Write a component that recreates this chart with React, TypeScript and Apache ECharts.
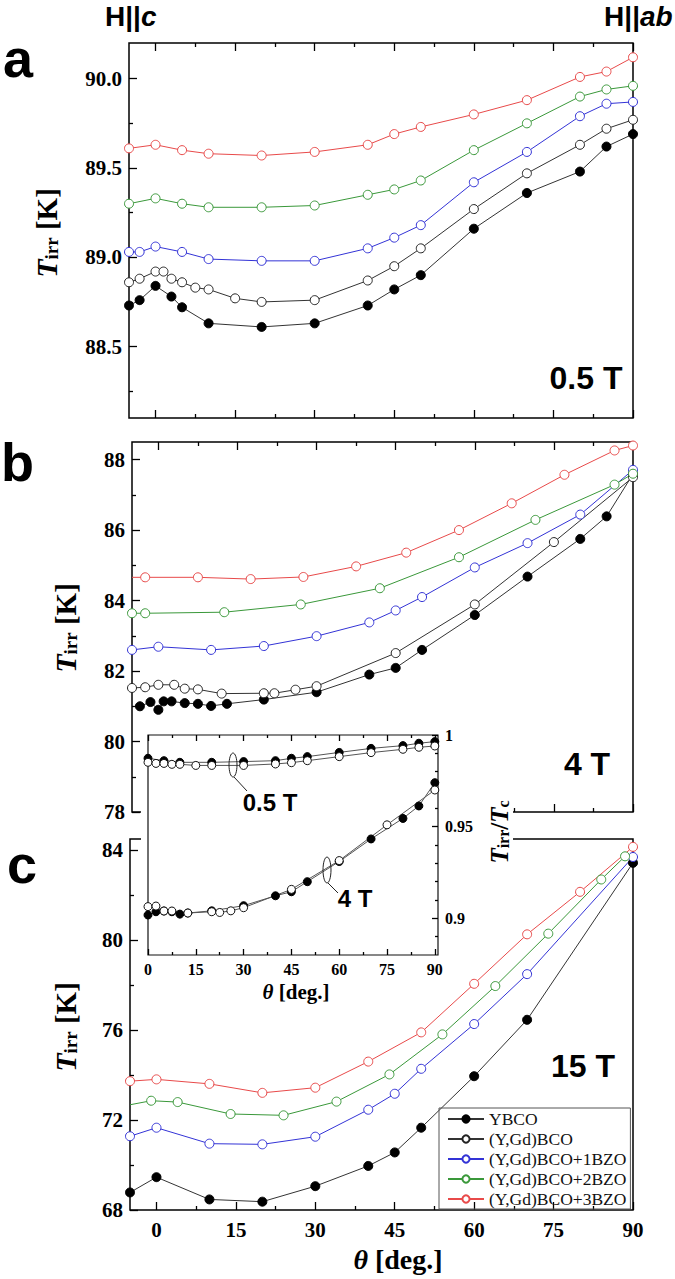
import React, { useEffect, useRef } from 'react';
import * as echarts from 'echarts';

const SERIES_NAMES = ['YBCO', '(Y,Gd)BCO', '(Y,Gd)BCO+1BZO', '(Y,Gd)BCO+2BZO', '(Y,Gd)BCO+3BZO'];

// ---------- Panel a : 0.5 T ----------
const aYBCO_theta = [-5, -3, 0, 3, 5, 10, 20, 30, 40, 45, 50, 60, 70, 80, 85, 90];
const aYBCO_T = [88.73, 88.76, 88.84, 88.78, 88.72, 88.63, 88.61, 88.63, 88.73, 88.82, 88.9, 89.16, 89.36, 89.48, 89.62, 89.69];
const aYGd_theta = [-5, -3, 0, 1.5, 3, 5, 7.5, 10, 15, 20, 30, 40, 45, 50, 60, 70, 80, 85, 90];
const aYGd_T = [88.86, 88.88, 88.92, 88.92, 88.88, 88.86, 88.83, 88.82, 88.77, 88.75, 88.76, 88.87, 88.95, 89.05, 89.27, 89.47, 89.63, 89.72, 89.77];
const a1BZO_theta = [-5, -3, 0, 5, 10, 20, 30, 40, 45, 50, 60, 70, 80, 85, 90];
const a1BZO_T = [89.03, 89.03, 89.06, 89.03, 88.99, 88.98, 88.98, 89.05, 89.11, 89.18, 89.42, 89.59, 89.79, 89.86, 89.87];
const a2BZO_theta = [-5, 0, 5, 10, 20, 30, 40, 45, 50, 60, 70, 80, 85, 90];
const a2BZO_T = [89.3, 89.33, 89.3, 89.28, 89.28, 89.29, 89.35, 89.38, 89.43, 89.6, 89.75, 89.9, 89.94, 89.96];
const a3BZO_theta = [-5, 0, 5, 10, 20, 30, 40, 45, 50, 60, 70, 80, 85, 90];
const a3BZO_T = [89.61, 89.63, 89.6, 89.58, 89.57, 89.59, 89.63, 89.69, 89.73, 89.8, 89.88, 90.01, 90.04, 90.12];

// ---------- Panel b : 4 T ----------
const bYBCO_theta = [-3.5, -1.5, 0, 1, 2.5, 5, 7.5, 10, 13, 20, 30, 40, 45, 50, 60, 70, 80, 85, 90];
const bYBCO_T = [81.0, 81.12, 80.9, 81.14, 81.14, 81.09, 81.07, 81.01, 81.07, 81.19, 81.4, 81.9, 82.09, 82.6, 83.59, 84.68, 85.75, 86.39, 87.59];
const bYGd_theta = [-5, -2.5, 0, 3, 5, 7.5, 12, 20, 22, 26, 30, 45, 60, 75, 90];
const bYGd_T = [81.52, 81.54, 81.61, 81.61, 81.5, 81.48, 81.36, 81.37, 81.37, 81.47, 81.57, 82.51, 83.89, 85.66, 87.5];
const b1BZO_theta = [-5, 0, 10, 20, 30, 40, 45, 50, 60, 70, 80, 90];
const b1BZO_T = [82.6, 82.69, 82.6, 82.71, 82.99, 83.38, 83.72, 84.1, 84.94, 85.63, 86.44, 87.71];
const b2BZO_theta = [-5, -2.5, 12.5, 27, 42, 57, 71.5, 86.5, 90];
const b2BZO_T = [83.64, 83.64, 83.67, 83.89, 84.35, 85.23, 86.29, 87.29, 87.6];
const b3BZO_theta = [-5, -2.5, 7.5, 17.5, 27.5, 37.5, 47, 57, 67, 77, 86.5, 90];
const b3BZO_T = [84.66, 84.66, 84.66, 84.61, 84.67, 84.97, 85.36, 86.0, 86.76, 87.57, 88.26, 88.4];

// ---------- Panel c : 15 T ----------
const cYBCO_theta = [-5, 0, 10, 20, 30, 40, 45, 50, 60, 70, 90];
const cYBCO_T = [68.78, 69.46, 68.47, 68.37, 69.06, 69.96, 70.56, 71.66, 73.95, 76.46, 83.44];
const c1BZO_theta = [-5, 0, 10, 20, 30, 40, 45, 50, 60, 70, 90];
const c1BZO_T = [71.28, 71.66, 70.95, 70.92, 71.26, 72.46, 73.17, 74.28, 76.27, 78.49, 83.7];
const c2BZO_theta = [-5, -1, 4, 14, 24, 34, 44, 54, 64, 74, 84, 88.5];
const c2BZO_T = [72.68, 72.86, 72.8, 72.27, 72.21, 72.82, 74.03, 75.81, 77.96, 80.29, 82.7, 83.73];
const c3BZO_theta = [-5, 0, 10, 20, 30, 40, 50, 60, 70, 80, 90];
const c3BZO_T = [73.73, 73.81, 73.61, 73.21, 73.44, 74.6, 75.9, 78.06, 80.26, 82.15, 84.15];

// ---------- Inset : Tirr/Tc ----------
const i05YBCO_theta = [0, 5, 10, 20, 30, 40, 45, 50, 60, 70, 80, 85, 90];
const i05YBCO = [0.9873, 0.986, 0.9851, 0.9851, 0.9855, 0.986, 0.9873, 0.9882, 0.9905, 0.9927, 0.9942, 0.9955, 0.9964];
const i05YGd_theta = [0, 2.5, 5, 7.5, 10, 15, 20, 30, 40, 45, 50, 60, 70, 80, 85, 90];
const i05YGd = [0.9851, 0.9845, 0.9845, 0.984, 0.984, 0.9834, 0.9834, 0.9834, 0.9842, 0.9849, 0.986, 0.9882, 0.9904, 0.9922, 0.9933, 0.994];
const i4YBCO_theta = [0, 2.5, 5, 7.5, 10, 12.5, 20, 30, 40, 45, 50, 60, 70, 80, 85, 90];
const i4YBCO = [0.9018, 0.9036, 0.904, 0.9036, 0.9023, 0.9029, 0.9041, 0.9069, 0.9123, 0.9145, 0.92, 0.931, 0.9433, 0.9545, 0.9613, 0.974];
const i4YGd_theta = [0, 2.5, 5, 7.5, 12.5, 20, 22.5, 26, 30, 45, 60, 75, 90];
const i4YGd = [0.9064, 0.9067, 0.904, 0.904, 0.9029, 0.9036, 0.9032, 0.9041, 0.9058, 0.9158, 0.9315, 0.951, 0.97];

// tick labels
const X_MAJOR = [0, 15, 30, 45, 60, 75, 90];
const X_MINOR = [7.5, 22.5, 37.5, 52.5, 67.5, 82.5];
const A_Y_MAJOR = [88.5, 89.0, 89.5, 90.0];
const A_Y_MINOR = [88.25, 88.75, 89.25, 89.75];
const B_Y_MAJOR = [78, 80, 82, 84, 86, 88];
const B_Y_MINOR = [79, 81, 83, 85, 87];
const C_Y_MAJOR = [68, 72, 76, 80, 84];
const C_Y_MINOR = [70, 74, 78, 82];
const I_Y_MAJOR = [0.9, 0.95, 1.0];
const I_Y_MINOR = [0.89, 0.91, 0.92, 0.93, 0.94, 0.96, 0.97, 0.98, 0.99];

const SERIF = '"Liberation Serif", "Times New Roman", serif';
const SANS = '"Liberation Sans", Arial, sans-serif';

const STYLES: Record<string, any> = {
  'YBCO': { fill: '#000', color: '#000', line: '#333' },
  '(Y,Gd)BCO': { fill: '#fff', color: '#222', line: '#333' },
  '(Y,Gd)BCO+1BZO': { fill: '#fff', color: '#3333d6', line: '#3333d6' },
  '(Y,Gd)BCO+2BZO': { fill: '#fff', color: '#3a983a', line: '#3a983a' },
  '(Y,Gd)BCO+3BZO': { fill: '#fff', color: '#e84a4a', line: '#e84a4a' },
};

function axis(gridIndex: number, min: number, max: number, position: string,
  ticks: number[], len: number, labels: number[] | null, fmt: any, fontSize: number, margin: number, z = 0) {
  return {
    type: 'value', gridIndex, min, max, position, z,
    axisLine: { show: false, onZero: false },
    splitLine: { show: false },
    axisTick: { show: true, inside: true, length: len, customValues: ticks, lineStyle: { color: '#000', width: 1.3 } },
    axisLabel: labels
      ? { show: true, customValues: labels, formatter: fmt, fontFamily: SERIF, fontWeight: 'bold', fontSize, color: '#000', margin }
      : { show: false },
  };
}

function mkSeries(name: string, xs: number[], ys: number[], xi: number, yi: number, opts: any = {}) {
  const st = STYLES[name] || opts.style;
  const hide: number[] = opts.hide || [];
  return {
    type: 'line', name, xAxisIndex: xi, yAxisIndex: yi,
    data: xs.map((x, i) => (hide.indexOf(i) >= 0 ? { value: [x, ys[i]], symbol: 'none' } : [x, ys[i]])),
    symbol: 'circle', symbolSize: opts.size || 9,
    itemStyle: { color: st.fill, borderColor: st.color, borderWidth: 1 },
    lineStyle: { color: st.line, width: 1 },
    z: opts.z || 2, silent: true, animation: false,
  };
}

export default function App() {
  const ref = useRef<HTMLDivElement>(null);
  useEffect(() => {
    if (!ref.current) return;
    const chart = echarts.init(ref.current, null, { renderer: 'svg' });
    const grids = [
      { left: 129, top: 43, width: 504, height: 375, show: true, borderColor: '#000', borderWidth: 1.5, backgroundColor: 'transparent' },
      { left: 132, top: 442, width: 501, height: 370, show: true, borderColor: '#000', borderWidth: 1.5, backgroundColor: 'transparent' },
      { left: 130, top: 839, width: 503, height: 371, show: true, borderColor: '#000', borderWidth: 1.5, backgroundColor: 'transparent' },
      { left: 148, top: 735, width: 290, height: 220, show: true, borderColor: '#111', borderWidth: 1.2, backgroundColor: '#fff', z: 20 },
    ];
    const xAxes: any[] = [];
    const yAxes: any[] = [];
    const xMain: number[] = [];
    const yMain: number[] = [];
    const yCfg = [
      { min: 88.1, max: 90.2, maj: A_Y_MAJOR, mnr: A_Y_MINOR, fmt: (v: number) => v.toFixed(1) },
      { min: 78, max: 88.5, maj: B_Y_MAJOR, mnr: B_Y_MINOR, fmt: (v: number) => String(v) },
      { min: 68, max: 84.5, maj: C_Y_MAJOR, mnr: C_Y_MINOR, fmt: (v: number) => String(v) },
    ];
    for (let g = 0; g < 3; g++) {
      xMain.push(xAxes.length);
      xAxes.push(axis(g, -5, 90, 'bottom', X_MAJOR, 8, g === 2 ? X_MAJOR : null, (v: number) => String(v), 21, 9));
      xAxes.push(axis(g, -5, 90, 'bottom', X_MINOR, 4, null, null, 0, 0));
      if (g < 2) {
        xAxes.push(axis(g, -5, 90, 'top', X_MAJOR, 8, null, null, 0, 0));
        xAxes.push(axis(g, -5, 90, 'top', X_MINOR, 4, null, null, 0, 0));
      }
      yMain.push(yAxes.length);
      const c = yCfg[g];
      yAxes.push(axis(g, c.min, c.max, 'left', c.maj, 8, c.maj, c.fmt, 21, 7));
      yAxes.push(axis(g, c.min, c.max, 'left', c.mnr, 4, null, null, 0, 0));
    }
    const xi = xAxes.length;
    xAxes.push(axis(3, 0, 91, 'bottom', X_MAJOR, 6, X_MAJOR, (v: number) => String(v), 16, 6, 22));
    xAxes.push(axis(3, 0, 91, 'bottom', X_MINOR, 3, null, null, 0, 0, 22));
    xAxes.push(axis(3, 0, 91, 'top', X_MAJOR, 6, null, null, 0, 0, 22));
    xAxes.push(axis(3, 0, 91, 'top', X_MINOR, 3, null, null, 0, 0, 22));
    const yi = yAxes.length;
    yAxes.push(axis(3, 0.88, 1.0, 'right', I_Y_MAJOR, 6, I_Y_MAJOR,
      (v: number) => (Math.abs(v - 1) < 1e-9 ? '1' : String(Math.round(v * 100) / 100)), 16, 7, 22));
    yAxes.push(axis(3, 0.88, 1.0, 'right', I_Y_MINOR, 3, null, null, 0, 0, 22));

    const filledIn = { fill: '#000', color: '#000', line: '#555' };
    const openIn = { fill: '#fff', color: '#111', line: '#555' };
    const series: any[] = [
      mkSeries('YBCO', aYBCO_theta, aYBCO_T, xMain[0], yMain[0]),
      mkSeries('(Y,Gd)BCO', aYGd_theta, aYGd_T, xMain[0], yMain[0]),
      mkSeries('(Y,Gd)BCO+1BZO', a1BZO_theta, a1BZO_T, xMain[0], yMain[0]),
      mkSeries('(Y,Gd)BCO+2BZO', a2BZO_theta, a2BZO_T, xMain[0], yMain[0]),
      mkSeries('(Y,Gd)BCO+3BZO', a3BZO_theta, a3BZO_T, xMain[0], yMain[0]),

      mkSeries('YBCO', bYBCO_theta, bYBCO_T, xMain[1], yMain[1]),
      mkSeries('(Y,Gd)BCO', bYGd_theta, bYGd_T, xMain[1], yMain[1]),
      mkSeries('(Y,Gd)BCO+1BZO', b1BZO_theta, b1BZO_T, xMain[1], yMain[1]),
      mkSeries('(Y,Gd)BCO+2BZO', b2BZO_theta, b2BZO_T, xMain[1], yMain[1]),
      mkSeries('(Y,Gd)BCO+3BZO', b3BZO_theta, b3BZO_T, xMain[1], yMain[1], { hide: [0] }),

      mkSeries('YBCO', cYBCO_theta, cYBCO_T, xMain[2], yMain[2]),
      mkSeries('(Y,Gd)BCO+1BZO', c1BZO_theta, c1BZO_T, xMain[2], yMain[2]),
      mkSeries('(Y,Gd)BCO+2BZO', c2BZO_theta, c2BZO_T, xMain[2], yMain[2], { hide: [0] }),
      mkSeries('(Y,Gd)BCO+3BZO', c3BZO_theta, c3BZO_T, xMain[2], yMain[2]),

      mkSeries('in05Y', i05YBCO_theta, i05YBCO, xi, yi, { style: filledIn, size: 8, z: 25 }),
      mkSeries('in05G', i05YGd_theta, i05YGd, xi, yi, { style: openIn, size: 8, z: 25 }),
      mkSeries('in4Y', i4YBCO_theta, i4YBCO, xi, yi, { style: filledIn, size: 8, z: 25 }),
      mkSeries('in4G', i4YGd_theta, i4YGd, xi, yi, { style: openIn, size: 8, z: 25 }),
    ];

    const tirr = (x: number, y: number, fs: number) => ({
      type: 'text', x, y, rotation: Math.PI / 2, z: 30,
      style: {
        text: '{t|T}{s|irr}{k| [K]}', align: 'center', verticalAlign: 'middle',
        rich: {
          t: { fontFamily: SERIF, fontStyle: 'italic', fontWeight: 'bold', fontSize: fs, lineHeight: fs + 2, verticalAlign: 'bottom', fill: '#000' },
          s: { fontFamily: SERIF, fontWeight: 'bold', fontSize: Math.round(fs * 0.62), lineHeight: 8, verticalAlign: 'bottom', fill: '#000' },
          k: { fontFamily: SERIF, fontWeight: 'bold', fontSize: fs - 1, lineHeight: fs + 2, verticalAlign: 'bottom', fill: '#000' },
        },
      },
    });
    const txt = (text: string, x: number, y: number, fs: number, align = 'center', italic = false) => ({
      type: 'text', x, y, z: 30,
      style: {
        text, fontFamily: SANS, fontWeight: 'bold', fontStyle: italic ? 'italic' : 'normal',
        fontSize: fs, fill: '#000', align, verticalAlign: 'middle',
      },
    });
    const theta = (x: number, y: number, fs: number) => ({
      type: 'text', x, y, z: 30,
      style: {
        text: '{a|θ}{b| [deg.]}', align: 'center', verticalAlign: 'middle',
        rich: {
          a: { fontFamily: SERIF, fontStyle: 'italic', fontWeight: 'bold', fontSize: fs, fill: '#000' },
          b: { fontFamily: SERIF, fontWeight: 'bold', fontSize: fs, fill: '#000' },
        },
      },
    });

    const graphic = [
      { type: 'rect', z: 10, shape: { x: 141, y: 788, width: 372, height: 64 }, style: { fill: '#fff' } },
      txt('H||', 105, 16, 28, 'left'),
      txt('c', 141, 16, 28, 'left', true),
      txt('H||', 640, 16, 28, 'right'),
      txt('ab', 640, 16, 28, 'left', true),
      txt('a', 3, 58, 54, 'left'),
      txt('b', 1, 462, 54, 'left'),
      txt('c', 7, 864, 54, 'left'),
      tirr(45, 233, 30),
      tirr(64, 628, 30),
      tirr(64, 1027, 30),
      txt('0.5 T', 586, 378, 32),
      txt('4 T', 587, 764, 32),
      txt('15 T', 583, 1066, 32),
      theta(398, 1259, 28),
      theta(296, 992, 21),
      {
        type: 'text', x: 498, y: 832, rotation: Math.PI / 2, z: 30,
        style: {
          text: '{t|T}{s|irr}{k|/}{t|T}{s|c}', align: 'center', verticalAlign: 'middle',
          rich: {
            t: { fontFamily: SERIF, fontStyle: 'italic', fontWeight: 'bold', fontSize: 25, lineHeight: 27, verticalAlign: 'bottom', fill: '#000' },
            s: { fontFamily: SERIF, fontWeight: 'bold', fontSize: 16, lineHeight: 8, verticalAlign: 'bottom', fill: '#000' },
            k: { fontFamily: SERIF, fontWeight: 'bold', fontSize: 25, lineHeight: 27, verticalAlign: 'bottom', fill: '#000' },
          },
        },
      },
      { type: 'ellipse', z: 30, shape: { cx: 233, cy: 765, rx: 4, ry: 12 }, style: { fill: 'none', stroke: '#222', lineWidth: 1 } },
      { type: 'line', z: 30, shape: { x1: 234, y1: 777, x2: 247, y2: 791 }, style: { stroke: '#222', lineWidth: 1 } },
      txt('0.5 T', 270, 802, 24),
      { type: 'ellipse', z: 30, shape: { cx: 327, cy: 870, rx: 4, ry: 13 }, style: { fill: 'none', stroke: '#222', lineWidth: 1 } },
      { type: 'line', z: 30, shape: { x1: 328, y1: 883, x2: 338, y2: 893 }, style: { stroke: '#222', lineWidth: 1 } },
      txt('4 T', 355, 898, 24),
    ];

    chart.setOption({
      animation: false,
      backgroundColor: '#fff',
      textStyle: { fontFamily: SERIF },
      grid: grids,
      xAxis: xAxes,
      yAxis: yAxes,
      legend: {
        data: SERIES_NAMES, orient: 'vertical', left: 439, top: 1108,
        itemWidth: 36, itemHeight: 9, itemGap: 2,
        padding: [2, 4, 1, 8], borderColor: '#555', borderWidth: 1,
        textStyle: { fontFamily: SERIF, fontSize: 17.5, color: '#111' },
        selectedMode: false, z: 5,
      },
      series,
      graphic,
    });
    return () => chart.dispose();
  }, []);
  return <div ref={ref} style={{ position: 'absolute', left: 0, top: 0, width: 675, height: 1279, background: '#fff' }} />;
}
